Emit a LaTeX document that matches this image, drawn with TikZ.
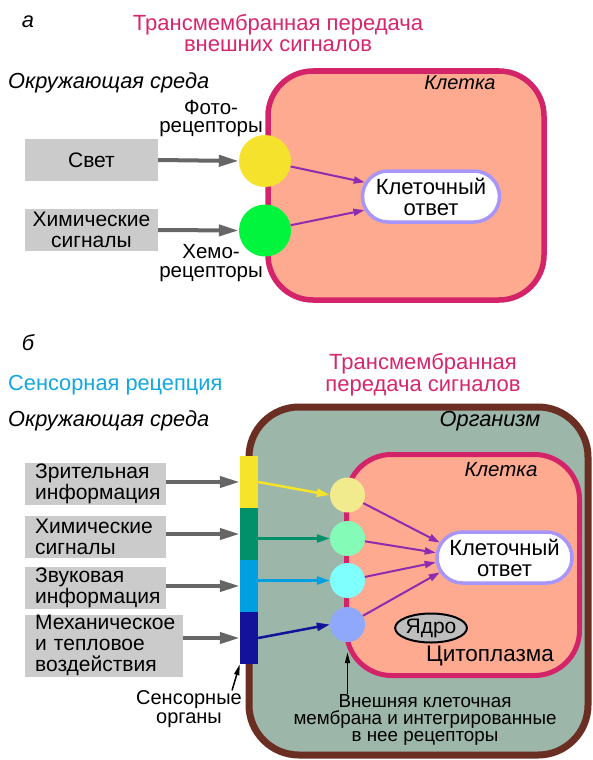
\documentclass[tikz,border=0pt]{standalone}
\usepackage{fontspec}
\setmainfont{Liberation Sans}
\usetikzlibrary{arrows.meta,shapes.misc,shapes.geometric}

\definecolor{titlepink}{HTML}{D6266E}
\definecolor{cellpink}{HTML}{D42469}
\definecolor{cellfill}{HTML}{FDAA90}
\definecolor{orgfill}{HTML}{9CB6A9}
\definecolor{orgbrown}{HTML}{6B2E22}
\definecolor{boxgray}{HTML}{CBCBCB}
\definecolor{arrgray}{HTML}{666666}
\definecolor{lavender}{HTML}{A895F8}
\definecolor{arrpurple}{HTML}{8E2BB0}
\definecolor{sensecyan}{HTML}{12A7E0}
\definecolor{photoyel}{HTML}{F5E22C}
\definecolor{chemgreen}{HTML}{00F53C}
\definecolor{baryel}{HTML}{F5E42A}
\definecolor{bargreen}{HTML}{00916A}
\definecolor{barblue}{HTML}{009FE0}
\definecolor{barnavy}{HTML}{12129A}
\definecolor{recyel}{HTML}{F2EB8E}
\definecolor{recgreen}{HTML}{84FCB8}
\definecolor{reccyan}{HTML}{80FFFF}
\definecolor{recblue}{HTML}{90A8FC}
\definecolor{nucgray}{HTML}{BEBEBE}

\tikzset{
  txt/.style={inner sep=0pt, font=\fontsize{21pt}{21pt}\selectfont},
  ital/.style={inner sep=0pt, font=\fontsize{21.8pt}{22pt}\selectfont\itshape},
  small/.style={inner sep=0pt, align=center, font=\fontsize{20pt}{18.5pt}\selectfont},
  ttl/.style={inner sep=0pt, align=center, text=titlepink, font=\fontsize{22pt}{21.5pt}\selectfont},
  grbox/.style={txt, fill=boxgray, align=center, minimum width=133pt, minimum height=42pt},
  grboxl/.style={txt, fill=boxgray, align=left, anchor=west, inner xsep=10pt},
  recep/.style={circle, inner sep=0pt, minimum size=#1},
  barseg/.style={inner sep=0pt, minimum width=18pt, minimum height=52pt},
  resp/.style={rounded rectangle, draw=lavender, line width=3.5pt, fill=white,
    minimum width=137pt, minimum height=51pt, inner sep=0pt, align=center,
    font=\fontsize{22pt}{21pt}\selectfont},
  grarr/.style={arrgray, line width=4pt, -{Triangle[length=20pt,width=11pt]}},
  sigarr/.style={arrpurple, line width=2pt, -{Triangle[length=11pt,width=7pt]}},
  colarr/.style={#1, line width=2.5pt, -{Triangle[length=13pt,width=8pt]}},
  blkarr/.style={black, line width=1.5pt, -{Triangle[length=11pt,width=5pt]}}
}

\begin{document}
\begin{tikzpicture}[x=1pt,y=-1pt]
    \useasboundingbox (0,0) rectangle (592,760);

    % ---------- а ----------
    \node[ital] (la) at (28,22) {а};
    \node[ttl] (ttlA) at (278,33) {Трансмембранная передача\\внешних сигналов};
    \node[ital, anchor=west] (envA) at (8,83) {Окружающая среда};

    % Клетка
    \draw[cellpink, line width=5.5pt, fill=cellfill, rounded corners=45pt] (268,71) rectangle (544,300);
    \node[ital, font=\fontsize{20pt}{20pt}\selectfont\itshape] (cellA) at (460,83) {Клетка};

    % Рецепторы
    \node[recep=52pt, fill=photoyel] (yel) at (265,161) {};
    \node[recep=52pt, fill=chemgreen] (grn) at (265,230.5) {};
    \node[small, anchor=east, font=\fontsize{20.5pt}{18.5pt}\selectfont] (photo) at (263,118.5) {Фото-\\рецепторы};
    \node[small, anchor=east, font=\fontsize{20.5pt}{18.5pt}\selectfont] (chemo) at (263,263) {Хемо-\\рецепторы};

    % Сигналы
    \node[grbox] (svet) at (91.5,160) {Свет};
    \node[grbox] (chemA) at (91.5,230) {Химические\\сигналы};
    \draw[grarr] (svet.east) -- (yel.west);
    \draw[grarr] (chemA.east) -- (grn.west);

    % Ответ
    \node[resp] (respA) at (431,196.5) {Клеточный\\ответ};
    \draw[sigarr] (yel) -- (respA);
    \draw[sigarr] (grn) -- (respA);

    % ---------- б ----------
    \node[ital] (lb) at (28,343) {б};
    \node[inner sep=0pt, anchor=west, text=sensecyan, font=\fontsize{21.8pt}{22pt}\selectfont] (sens) at (8,385) {Сенсорная рецепция};
    \node[ttl] (ttlB) at (423,374.5) {Трансмембранная\\передача сигналов};
    \node[ital, anchor=west] (envB) at (8,421) {Окружающая среда};

    % Организм
    \draw[orgbrown, line width=7pt, fill=orgfill, rounded corners=50pt] (249,407) rectangle (588,755);
    \node[ital] (org) at (490,421) {Организм};

    % Клетка
    \draw[cellpink, line width=5pt, fill=cellfill, rounded corners=45pt] (346.5,454.5) rectangle (579.5,675.5);
    \node[ital, font=\fontsize{20.5pt}{20pt}\selectfont\itshape] (cellB) at (501,470) {Клетка};

    % Сенсорные органы и рецепторы
    \foreach \i/\bc/\rc/\y/\ry in {1/baryel/recyel/482/495, 2/bargreen/recgreen/534/538.5,
                                   3/barblue/reccyan/586/580.5, 4/barnavy/recblue/638/624.5} {
        \node[barseg, fill=\bc] (bar\i) at (249,\y) {};
        \node[recep=35pt, fill=\rc] (rec\i) at (347.5,\ry) {};
    }

    % Сигналы
    \node[grboxl, text width=121pt, minimum height=42pt] (vis) at (25,483.5) {Зрительная\\информация};
    \node[grboxl, text width=121pt, minimum height=42pt] (chemB) at (25,537) {Химические\\сигналы};
    \node[grboxl, text width=121pt, minimum height=42pt] (snd) at (25,587.5) {Звуковая\\информация};
    \node[grboxl, text width=138pt, minimum height=62pt] (mech) at (25,645.5) {Механическое\\и тепловое\\воздействия};
    \draw[grarr] (vis.east |- bar1) -- (bar1.west);
    \draw[grarr] (chemB.east |- bar2) -- (bar2.west);
    \draw[grarr] (snd.east |- bar3) -- (bar3.west);
    \draw[grarr] (mech.east |- bar4) -- (bar4.west);

    \draw[colarr=baryel] (bar1.east) -- (rec1.west);
    \draw[colarr=bargreen] (bar2.east |- rec2) -- (rec2.west);
    \draw[colarr=barblue] (bar3.east |- rec3) -- (rec3.west);
    \draw[colarr=barnavy] (bar4.east) -- (rec4.west);

    % Ответ
    \node[resp, minimum width=135pt] (respB) at (504.5,557.5) {Клеточный\\ответ};
    \foreach \i/\a in {1/167, 2/176, 3/184, 4/193}
        \draw[sigarr] (rec\i) -- (respB.\a);

    \node[ellipse, draw=black, line width=2pt, fill=nucgray, minimum width=66pt, minimum height=29pt,
          inner sep=0pt, font=\fontsize{21pt}{21pt}\selectfont] (nuc) at (431,628) {Ядро};
    \node[txt, font=\fontsize{22.5pt}{22pt}\selectfont] (cyto) at (490,656) {Цитоплазма};

    % Подписи
    \node[small] (sorg) at (189,709) {Сенсорные\\органы};
    \draw[blkarr] ([xshift=-10pt]sorg.north east) -- (bar4.south west);
    \node[small, font=\fontsize{18.8pt}{17pt}\selectfont] (memb) at (425,720) {Внешняя клеточная\\мембрана и интегрированные\\в нее рецепторы};
    \draw[blkarr] (memb.north -| rec4.south) -- ([yshift=-10pt]rec4.south);
\end{tikzpicture}
\end{document}
